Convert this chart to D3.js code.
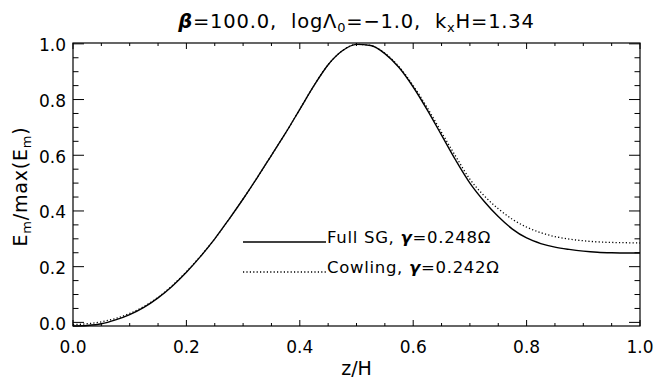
<!DOCTYPE html>
<html>
<head>
<meta charset="utf-8">
<script src="https://cdn.jsdelivr.net/npm/d3@7"></script>
<style>
  html, body { margin: 0; padding: 0; background: #fff; }
  svg { display: block; }
  text { font-family: "DejaVu Sans", "Liberation Sans", sans-serif; fill: #000; white-space: pre; }
</style>
</head>
<body>
<svg id="chart" width="655" height="379"></svg>
<script>
// Vertical position z/H of each sample
const zGrid = [0.000, 0.025, 0.050, 0.075, 0.100, 0.125, 0.150, 0.175, 0.200, 0.225,
               0.250, 0.275, 0.300, 0.325, 0.350, 0.375, 0.400, 0.425, 0.450, 0.475,
               0.500, 0.525, 0.550, 0.575, 0.600, 0.625, 0.650, 0.675, 0.700, 0.725,
               0.750, 0.775, 0.800, 0.825, 0.850, 0.875, 0.900, 0.925, 0.950, 0.975, 1.000];

// Normalised magnetic energy, full self-gravity run
const fullSG = [-0.013, -0.011, -0.005, 0.009, 0.028, 0.054, 0.088, 0.130, 0.180, 0.237,
                0.300, 0.370, 0.443, 0.520, 0.600, 0.680, 0.765, 0.850, 0.925, 0.975,
                0.998, 0.994, 0.965, 0.915, 0.845, 0.762, 0.672, 0.582, 0.500, 0.435,
                0.380, 0.335, 0.303, 0.283, 0.270, 0.262, 0.256, 0.252, 0.250, 0.249, 0.249];

// Normalised magnetic energy, Cowling approximation
const cowling = [-0.008, -0.005, 0.002, 0.014, 0.032, 0.057, 0.090, 0.132, 0.182, 0.238,
                 0.300, 0.370, 0.443, 0.520, 0.600, 0.680, 0.765, 0.850, 0.925, 0.975,
                 0.998, 0.994, 0.966, 0.918, 0.850, 0.770, 0.682, 0.596, 0.514, 0.455,
                 0.408, 0.370, 0.342, 0.322, 0.308, 0.299, 0.293, 0.289, 0.287, 0.286, 0.285];

const xMajorTicks = [0.0, 0.2, 0.4, 0.6, 0.8, 1.0];
const yMajorTicks = [0.0, 0.2, 0.4, 0.6, 0.8, 1.0];
const minorStep = [0.05];

const svg = d3.select("#chart");
const plotLeft = 73, plotRight = 640, plotTop = 43, plotBottom = 326;

const x = d3.scaleLinear().domain([0, 1]).range([plotLeft, plotRight]);
const y = d3.scaleLinear().domain([-0.013, 1.003]).range([plotBottom, plotTop]);

const minorX = d3.range(0, 1.0001, minorStep[0]);
const minorY = d3.range(0, 1.0001, minorStep[0]);

// Frame
svg.append("rect")
  .attr("x", plotLeft).attr("y", plotTop)
  .attr("width", plotRight - plotLeft).attr("height", plotBottom - plotTop)
  .attr("fill", "none").attr("stroke", "#000").attr("stroke-width", 1.2);

// Tick marks on all four sides (x ticks short, y ticks long, minors at half length)
const fmt = d3.format(".1f");
const isMajor = v => Math.abs(v * 5 - Math.round(v * 5)) < 1e-6;
const xLen = v => isMajor(v) ? 6 : 3;
const yLen = v => isMajor(v) ? 11 : 5.5;

const tickG = svg.append("g").attr("stroke", "#000").attr("stroke-width", 1);
minorX.forEach(v => {
  const px = x(v);
  tickG.append("line").attr("x1", px).attr("x2", px).attr("y1", plotBottom).attr("y2", plotBottom - xLen(v));
  tickG.append("line").attr("x1", px).attr("x2", px).attr("y1", plotTop).attr("y2", plotTop + xLen(v));
});
minorY.forEach(v => {
  const py = y(v);
  tickG.append("line").attr("x1", plotLeft).attr("x2", plotLeft + yLen(v)).attr("y1", py).attr("y2", py);
  tickG.append("line").attr("x1", plotRight).attr("x2", plotRight - yLen(v)).attr("y1", py).attr("y2", py);
});

// Tick labels
svg.append("g").selectAll("text").data(xMajorTicks).join("text")
  .attr("x", d => x(d)).attr("y", 353)
  .attr("text-anchor", "middle").attr("font-size", 17)
  .text(d => fmt(d));

svg.append("g").selectAll("text").data(yMajorTicks).join("text")
  .attr("x", 66).attr("y", d => y(d) + 7.5)
  .attr("text-anchor", "end").attr("font-size", 17)
  .text(d => fmt(d));

// Axis titles
svg.append("text").attr("x", (plotLeft + plotRight) / 2).attr("y", 375)
  .attr("text-anchor", "middle").attr("font-size", 19).text("z/H");

const yl = svg.append("text")
  .attr("transform", `translate(27,${(plotTop + plotBottom) / 2 + 2}) rotate(-90)`)
  .attr("text-anchor", "middle").attr("font-size", 19).attr("letter-spacing", 0.8);
yl.append("tspan").text("E");
yl.append("tspan").attr("font-size", 13).attr("dy", 4).text("m");
yl.append("tspan").attr("dy", -4).text("/max(E");
yl.append("tspan").attr("font-size", 13).attr("dy", 4).text("m");
yl.append("tspan").attr("dy", -4).text(")");

// Title
const t = svg.append("text").attr("x", (plotLeft + plotRight) / 2).attr("y", 28)
  .attr("text-anchor", "middle").attr("font-size", 19.5).attr("letter-spacing", 0.8);
t.append("tspan").attr("font-weight", "bold").attr("font-style", "italic").text("β");
t.append("tspan").text("=100.0,  logΛ");
t.append("tspan").attr("font-size", 13).attr("dy", 4).text("0");
t.append("tspan").attr("dy", -4).text("=−1.0,  k");
t.append("tspan").attr("font-size", 13).attr("dy", 4).text("x");
t.append("tspan").attr("dy", -4).text("H=1.34");

// Curves
const line = d3.line().x((d, i) => x(zGrid[i])).y(d => y(d)).curve(d3.curveMonotoneX);

const plot = svg.append("g");
plot.append("path").datum(fullSG)
  .attr("d", line).attr("fill", "none").attr("stroke", "#000").attr("stroke-width", 1.4);
plot.append("path").datum(cowling)
  .attr("d", line).attr("fill", "none").attr("stroke", "#000").attr("stroke-width", 1.3)
  .attr("stroke-dasharray", "1.2,2.2");

// Legend
const legend = [
  { name: "Full SG, ", gamma: "0.248", dash: null, y: 242 },
  { name: "Cowling, ", gamma: "0.242", dash: "1.2,2.2", y: 272 }
];
legend.forEach(d => {
  svg.append("line").attr("x1", 243).attr("x2", 326).attr("y1", d.y).attr("y2", d.y)
    .attr("stroke", "#000").attr("stroke-width", 1.3)
    .attr("stroke-dasharray", d.dash);
  const tx = svg.append("text").attr("x", 327).attr("y", d.y + 1).attr("font-size", 16.5)
    .attr("letter-spacing", 0.7);
  tx.append("tspan").text(d.name);
  tx.append("tspan").attr("font-weight", "bold").attr("font-style", "italic").text("γ");
  tx.append("tspan").text("=" + d.gamma + "Ω");
});
</script>
</body>
</html>
